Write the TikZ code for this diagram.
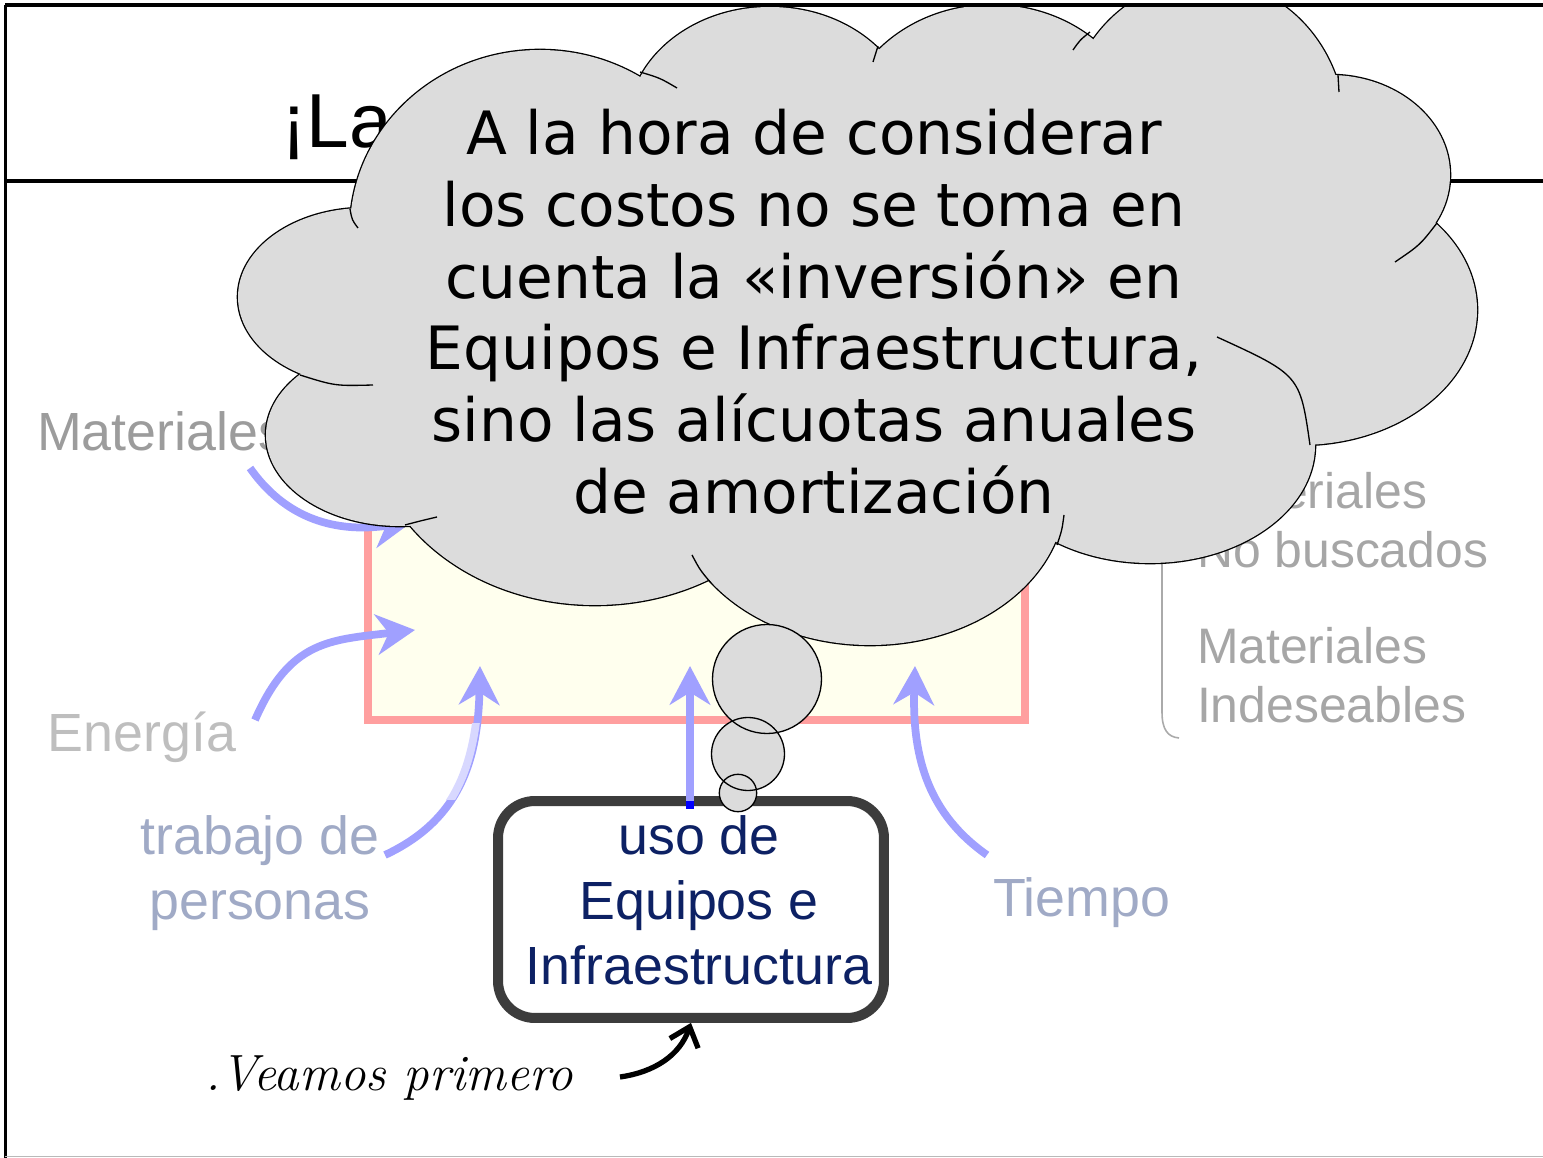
\documentclass[tikz,border=0pt]{standalone}
\usepackage{fontspec}
\newfontfamily\arialf{Liberation Sans}
\newfontfamily\cloudf{DejaVu Sans}
\usetikzlibrary{arrows.meta}
\definecolor{cloudgray}{HTML}{DCDCDC}
\definecolor{arrowblue}{HTML}{A0A0FF}
\definecolor{arrowlight}{HTML}{D8D8FF}
\definecolor{pinkline}{HTML}{FF9F9F}
\definecolor{paleyellow}{HTML}{FFFFEE}
\definecolor{labelgray}{HTML}{9C9C9C}
\definecolor{energygray}{HTML}{BEBEBE}
\definecolor{rgray}{HTML}{A6A6A6}
\definecolor{bluegray}{HTML}{A0AAC6}
\definecolor{navy}{HTML}{0D2164}
\definecolor{boxgray}{HTML}{3C3C3C}
\definecolor{bracegray}{HTML}{AAAAAA}
\newcommand\mylbl{\arialf\fontsize{30.6pt}{36.9pt}\selectfont}
\newcommand\myrlbl{\arialf\fontsize{28.4pt}{34pt}\selectfont}
\newcommand\mycloud{\cloudf\fontsize{34pt}{40.8pt}\selectfont}
\begin{document}
\begin{tikzpicture}[x=0.02cm,y=-0.02cm,
  every node/.style={inner sep=0pt, outer sep=0pt},
  inarrow/.style={draw=arrowblue, line width=4.4pt, -{Stealth[length=22pt,width=23pt,inset=7pt]}},
  label/.style={font=\mylbl},
  rlabel/.style={font=\myrlbl, text=rgray, anchor=north west, align=left},
  cloudline/.style={line width=0.75pt},
  bubble/.style={fill=cloudgray}]
\useasboundingbox (0,0) rectangle (1543,1158);
% frame
\draw[line width=2pt] (5.7,5) -- (5.7,1158);
\draw[line width=2.5pt] (5,181) -- (1543,181);
\draw[gray!55, line width=0.8pt] (5,1156.5) -- (1543,1156.5);
\node[anchor=base west, font=\arialf\fontsize{43.6pt}{52pt}\selectfont] (title) at (281,148) {¡La};
% process rectangle
\node[draw=pinkline, fill=paleyellow, line width=4.2pt, minimum width=13.14cm, minimum height=5cm] (proc) at (696.5,595) {};
% labels
\node[label, anchor=base west, text=labelgray] (matin) at (37,451) {Materiales};
\node[label, anchor=base west, text=energygray] (energia) at (48,752) {Energía};
\node[label, anchor=north, align=center, text=bluegray] (trabajo) at (260,816) {trabajo de\\personas};
\node[label, anchor=base west, text=bluegray] (tiempo) at (993,916) {Tiempo};
\node[rlabel] (nobusc) at (1197,472) {Materiales\\No buscados};
\node[rlabel] (indes) at (1197,627) {Materiales\\Indeseables};
\draw[bracegray, line width=0.9pt] (1162,540) -- (1162,712) .. controls (1162,730) and (1168,737) .. (1179,738);
% input arrows
\coordinate (mtail) at (250,468); \coordinate (mtip) at (412,522);
\coordinate (etail) at (255,720); \coordinate (etip) at (415,630);
\coordinate (ttail) at (385,855); \coordinate (ttip) at (480,666);
\coordinate (tiemtail) at (987,855); \coordinate (tiemtip) at (915,666);
\draw[inarrow] (mtail) .. controls (290,525) and (345,532) .. (mtip);
\draw[inarrow] (etail) .. controls (290,640) and (330,640) .. (etip);
\draw[inarrow] (ttail) .. controls (460,820) and (478,760) .. (ttip);
\begin{scope}
\clip (420,724) rectangle (520,800);
\draw[arrowlight, line width=4.4pt] (ttail) .. controls (460,820) and (478,760) .. (ttip);
\end{scope}
\draw[inarrow] (tiemtail) .. controls (930,815) and (912,760) .. (tiemtip);
% box
\node[draw=boxgray, line width=5.7pt, rounded corners=21pt, outer sep=2.8pt, fill=white,
      minimum width=7.72cm, minimum height=4.34cm] (box) at (691,909.5) {};
\node[font=\mylbl, anchor=north, align=center, text=navy] (boxtext) at (699,816) {uso de\\Equipos e\\Infraestructura};
\coordinate (utail) at (690,809); \coordinate (utip) at (690,666); \coordinate (ubase) at (690,801);
\draw[inarrow] (utail) -- (utip);
\draw[blue, line width=4.4pt] (ubase) -- (utail);
% Veamos
\node[anchor=base west, font=\itshape\fontsize{29pt}{34pt}\selectfont] (veamos) at (205,1090) {.Veamos primero};
\coordinate (vtail) at (620,1077);
\draw[line width=3pt, -{Straight Barb[length=10pt,width=17pt]}] (vtail) .. controls (655,1072) and (680,1055) .. (box.south);
% cloud
\begin{scope}
\clip (0,6.5) rectangle (1543,1158);
\def\lobes{540/230/190/180, 770/125/142/118, 992/140/152/135, 1205/130/140/150, 1330/175/120/100, 1300/310/177/135, 1150/445/165/118, 870/495/195/150, 595/420/225/185, 400/435/134/91, 365/297/127/89, 830/300/400/200}
\foreach \cx/\cy/\rx/\ry in \lobes {\draw[line width=1.5pt] (\cx,\cy) ellipse [x radius=\rx, y radius=\ry];}
\foreach \cx/\cy/\rx/\ry in \lobes {\fill[cloudgray] (\cx,\cy) ellipse [x radius=\rx, y radius=\ry];}
\end{scope}
\draw[cloudline] (350,209) .. controls (352,220) .. (358,228);
\draw[cloudline] (300,375) .. controls (335,386) .. (373,385);
\draw[cloudline] (405,525) .. controls (420,521) .. (437,517);
\draw[cloudline] (640,72) .. controls (660,78) .. (677,88);
\draw[cloudline] (878,46) .. controls (875,54) .. (873,62);
\draw[cloudline] (1090,32) .. controls (1080,40) .. (1073,50);
\draw[cloudline] (1338,75) .. controls (1339,83) .. (1339,92);
\draw[cloudline] (1437,223) .. controls (1420,245) .. (1395,262);
\draw[cloudline] (1310,445) .. controls (1300,375) .. (1217,337);
\draw[cloudline] (1057,545) .. controls (1062,530) .. (1064,515);
\draw[cloudline] (711,583) .. controls (700,570) .. (692,555);
\node[font=\mycloud, anchor=north, align=center] (cloudtext) at (814,109.5) {A la hora de considerar\\los costos no se toma en\\cuenta la «inversión» en\\Equipos e Infraestructura,\\sino las alícuotas anuales\\de amortización};
% thought bubbles
\foreach \cx/\cy/\r in {767/679/54.5, 748/754/36.5, 738/793/18.7} {\fill[cloudgray] (\cx,\cy) circle [radius=\r];}
\foreach \cx/\cy/\r in {767/679/54.5, 748/754/36.5, 738/793/18.7} {\draw[cloudline] (\cx,\cy) circle [radius=\r];}
% top frame line
\draw[line width=2pt] (5,5) -- (1543,5);
\end{tikzpicture}
\end{document}
